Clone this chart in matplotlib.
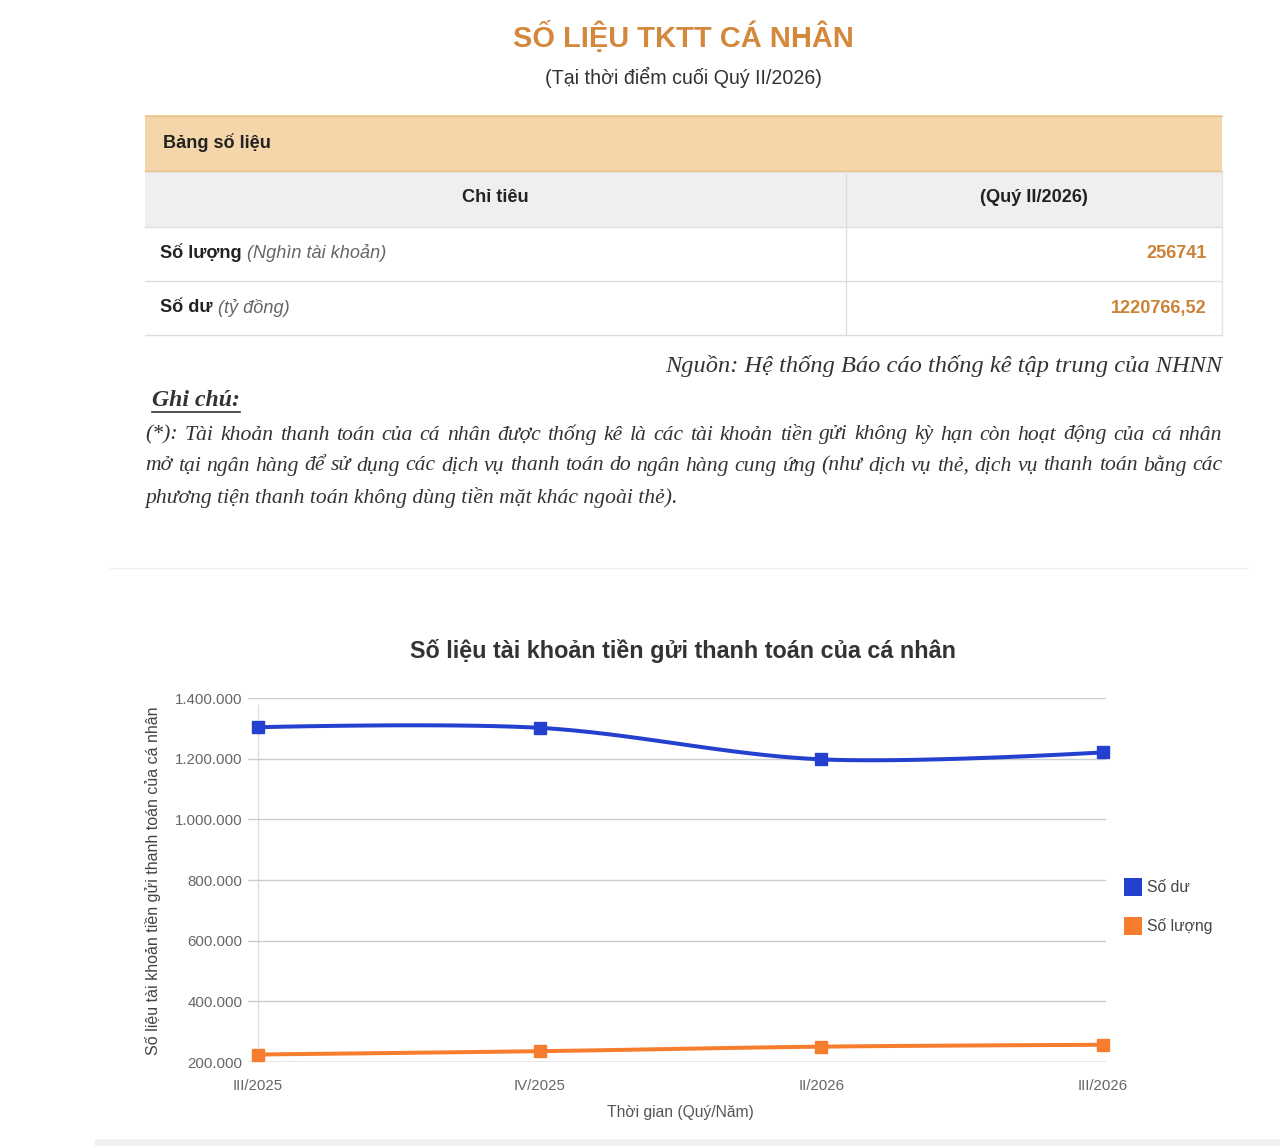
import matplotlib
matplotlib.use('Agg')
import matplotlib.pyplot as plt
import numpy as np
from matplotlib.patches import Rectangle
from matplotlib.ticker import FuncFormatter, FixedLocator

# ---------------- data ----------------
page_title = "SỐ LIỆU TKTT CÁ NHÂN"
page_subtitle = "(Tại thời điểm cuối Quý II/2026)"
table_caption = "Bảng số liệu"
table_headers = ["Chỉ tiêu", "(Quý II/2026)"]
row_names = ["Số lượng", "Số dư"]
row_units = ["(Nghìn tài khoản)", "(tỷ đồng)"]
row_values = ["256741", "1220766,52"]
source_text = "Nguồn: Hệ thống Báo cáo thống kê tập trung của NHNN"
note_title = "Ghi chú:"
note_lines = [
    "(*): Tài khoản thanh toán của cá nhân được thống kê là các tài khoản tiền gửi không kỳ hạn còn hoạt động của cá nhân",
    "mở tại ngân hàng để sử dụng các dịch vụ thanh toán do ngân hàng cung ứng (như dịch vụ thẻ, dịch vụ thanh toán bằng các",
    "phương tiện thanh toán không dùng tiền mặt khác ngoài thẻ).",
]
chart_title = "Số liệu tài khoản tiền gửi thanh toán của cá nhân"
y_label = "Số liệu tài khoản tiền gửi thanh toán của cá nhân"
x_label = "Thời gian (Quý/Năm)"
quarters = ["III/2025", "IV/2025", "II/2026", "III/2026"]
series_names = ["Số dư", "Số lượng"]
so_du = [1303600, 1301600, 1197700, 1220767]
so_luong = [224700, 235700, 250600, 256741]
y_ticks = [200000, 400000, 600000, 800000, 1000000, 1200000, 1400000]

BLUE = "#2440cf"
ORANGE = "#f67d2e"
TITLE_ORANGE = "#d4883c"
VAL_ORANGE = "#cc8236"

W, H = 1280, 1146
fig = plt.figure(figsize=(W / 100, H / 100), dpi=100)
fig.patch.set_facecolor("white")

bg = fig.add_axes([0, 0, 1, 1])
bg.set_xlim(0, W)
bg.set_ylim(H, 0)
bg.axis("off")

SANS = ["Liberation Sans", "DejaVu Sans"]
SERIF = ["Liberation Serif", "DejaVu Serif"]
PX = 0.72  # px -> pt

r = fig.canvas.get_renderer()


def width_of(t):
    return t.get_window_extent(r).width


# ---------------- header ----------------
bg.text(683, 37, page_title, ha="center", va="center", fontsize=29 * PX,
        fontweight="bold", color=TITLE_ORANGE, family=SANS)
bg.text(683, 77, page_subtitle, ha="center", va="center", fontsize=19.6 * PX,
        color="#333333", family=SANS)

# ---------------- table ----------------
TL, TR, TM = 145, 1222, 846
TFS = 18.2 * PX
bg.add_patch(Rectangle((TL, 115), TR - TL, 56, facecolor="#f5d6aa",
                       edgecolor="none"))
bg.plot([TL, TR], [115.5, 115.5], color="#e8c08a", lw=1)
bg.plot([TL, TR], [171, 171], color="#e3bf8e", lw=1)
bg.add_patch(Rectangle((TL, 171), TR - TL, 56, facecolor="#efeef1",
                       edgecolor="none"))
for yy in [227, 281, 335]:
    bg.plot([TL, TR], [yy, yy], color="#dddddd", lw=1)
bg.plot([TM, TM], [171, 335], color="#dddddd", lw=1)
bg.plot([TR, TR], [171, 335], color="#e6e6e6", lw=1)

bg.text(163, 143, table_caption, ha="left", va="center", fontsize=TFS,
        fontweight="bold", color="#222222", family=SANS)
bg.text((TL + TM) / 2, 198, table_headers[0], ha="center", va="center",
        fontsize=TFS, fontweight="bold", color="#222222", family=SANS)
bg.text((TM + TR) / 2, 198, table_headers[1], ha="center", va="center",
        fontsize=TFS, fontweight="bold", color="#222222", family=SANS)
for i, (nm, un, val) in enumerate(zip(row_names, row_units, row_values)):
    yy = 253 + 55 * i
    t = bg.text(160, yy, nm, ha="left", va="center", fontsize=TFS,
                fontweight="bold", color="#222222", family=SANS)
    w = width_of(t)
    bg.text(160 + w + 5, yy, un, ha="left", va="center", fontsize=TFS,
            style="italic", color="#666666", family=SANS)
    bg.text(1207, yy, val, ha="right", va="center", fontsize=TFS,
            fontweight="bold", color=VAL_ORANGE, family=SANS)

# ---------------- source / notes ----------------
bg.text(1222, 366, source_text, ha="right", va="center", fontsize=24.4 * PX,
        style="italic", color="#333333", family=SERIF)
t = bg.text(152, 401, note_title, ha="left", va="center", fontsize=23.8 * PX,
            style="italic", fontweight="bold", color="#333333", family=SERIF)
w = width_of(t)
bg.plot([152, 152 + w], [412, 412], color="#333333", lw=1.2)


def justify(line, x0, x1, y, **kw):
    words = line.split(" ")
    texts = [bg.text(x0, y, wd, ha="left", va="center", **kw) for wd in words]
    widths = [width_of(tt) for tt in texts]
    gap = (x1 - x0 - sum(widths)) / (len(words) - 1)
    x = x0
    for tt, ww in zip(texts, widths):
        tt.set_x(x)
        x += ww + gap


note_kw = dict(fontsize=21.7 * PX, style="italic", color="#333333", family=SERIF)
justify(note_lines[0], 145, 1222, 435, **note_kw)
justify(note_lines[1], 145, 1222, 466, **note_kw)
bg.text(145, 497, note_lines[2], ha="left", va="center", **note_kw)

# separators
bg.plot([110, 1248], [568, 568], color="#eeeeee", lw=1)
bg.add_patch(Rectangle((95, 1139), W - 95, 7, facecolor="#efefef",
                       edgecolor="none"))

# ---------------- chart ----------------
bg.text(683, 651, chart_title, ha="center", va="center", fontsize=23.4 * PX,
        fontweight="bold", color="#333333", family=SANS)

AL, AR, AT, AB = 248, 1106, 698, 1062
ax = fig.add_axes([AL / W, (H - AB) / H, (AR - AL) / W, (AB - AT) / H])
ax.set_facecolor("none")
x = np.arange(len(quarters))
px_per_unit = (1103 - 258) / 3
ax.set_xlim(-(258 - AL) / px_per_unit, 3 + (AR - 1103) / px_per_unit)
ax.set_ylim(200000, 1400000)
for s in ax.spines.values():
    s.set_visible(False)
ax.yaxis.set_major_locator(FixedLocator(y_ticks))
ax.yaxis.set_major_formatter(FuncFormatter(lambda v, p: f"{int(v):,}".replace(",", ".")))
ax.set_xticks(x)
ax.set_xticklabels(quarters)
ax.tick_params(axis="both", length=0, labelsize=15 * PX, labelcolor="#666666")
ax.tick_params(axis="y", pad=4)
ax.tick_params(axis="x", pad=12)
for lab in ax.get_xticklabels() + ax.get_yticklabels():
    lab.set_family(SANS)
ax.grid(axis="y", color="#cccccc", lw=1)
ax.axhline(200000, color="#aaaaaa", lw=1, zorder=1)
ax.axvline(0, ymax=(1062 - 705) / 364, color="#dddddd", lw=1, zorder=1)


def smooth(xs, ys, n=40):
    xs = np.asarray(xs, float)
    ys = np.asarray(ys, float)
    m = len(xs)
    tx = np.zeros(m)
    ty = np.zeros(m)
    for i in range(1, m - 1):
        tx[i] = (xs[i + 1] - xs[i - 1]) / 2
        ty[i] = (ys[i + 1] - ys[i - 1]) / 2
    ox, oy = [], []
    t = np.linspace(0, 1, n)
    for i in range(m - 1):
        p0 = np.array([xs[i], ys[i]])
        p3 = np.array([xs[i + 1], ys[i + 1]])
        p1 = p0 + np.array([tx[i], ty[i]]) / 3
        p2 = p3 - np.array([tx[i + 1], ty[i + 1]]) / 3
        b = ((1 - t) ** 3)[:, None] * p0 + (3 * (1 - t) ** 2 * t)[:, None] * p1 \
            + (3 * (1 - t) * t ** 2)[:, None] * p2 + (t ** 3)[:, None] * p3
        ox.extend(b[:, 0])
        oy.extend(b[:, 1])
    return ox, oy


for vals, col in [(so_du, BLUE), (so_luong, ORANGE)]:
    sx, sy = smooth(x, vals)
    ax.plot(sx, sy, color=col, lw=4 * PX, solid_capstyle="round", zorder=3)
    ax.plot(x, vals, linestyle="none", marker="s", markersize=12 * PX,
            color=col, zorder=4, clip_on=False)

fig.text(153 / W, 1 - 881 / H, y_label, rotation=90, ha="center", va="center",
         fontsize=16 * PX, color="#444444", family=SANS)
bg.text(680, 1113, x_label, ha="center", va="center", fontsize=15.6 * PX,
        color="#555555", family=SANS)

# legend
for i, (nm, col) in enumerate(zip(series_names, [BLUE, ORANGE])):
    yy = 887 + 39 * i
    bg.add_patch(Rectangle((1124, yy - 9), 18, 18, facecolor=col,
                           edgecolor="none"))
    bg.text(1147, yy, nm, ha="left", va="center", fontsize=15.7 * PX,
            color="#444444", family=SANS)

fig.savefig("out.png", dpi=100, facecolor="white")
